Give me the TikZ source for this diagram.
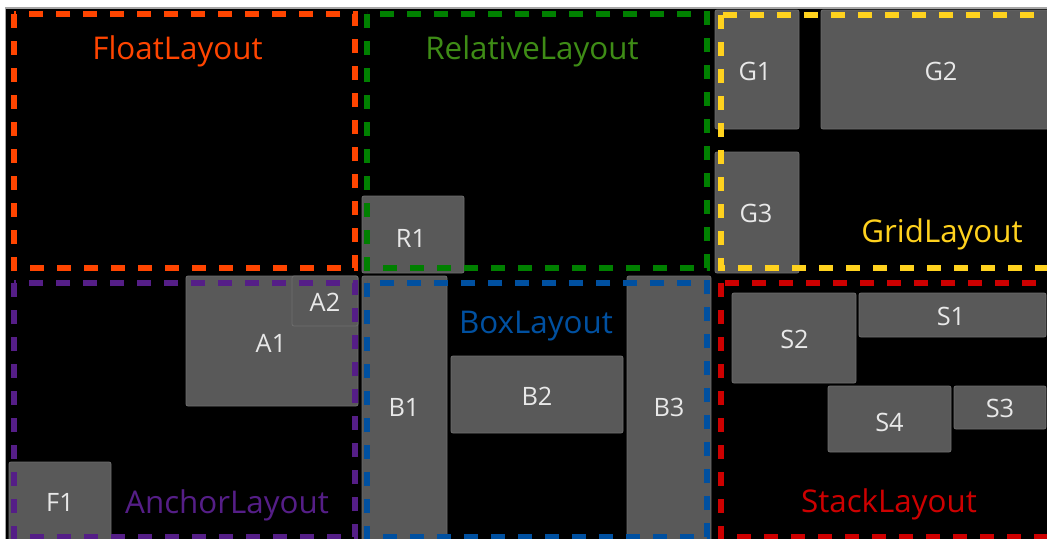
\documentclass[tikz,border=0pt]{standalone}
\usepackage{fontspec}
\setmainfont{Open Sans}
\usepackage{tikz}
\definecolor{floatorange}{RGB}{255, 69, 0}
\definecolor{relativegreen}{RGB}{0, 128, 0}
\definecolor{relativetext}{RGB}{62, 140, 22}
\definecolor{gridgold}{RGB}{255, 210, 30}
\definecolor{anchorpurple}{RGB}{85, 30, 135}
\definecolor{boxblue}{RGB}{0, 80, 160}
\definecolor{stackred}{RGB}{205, 0, 0}
\definecolor{widgetgray}{RGB}{89, 89, 89}
\definecolor{widgetedge}{RGB}{110, 110, 110}
\definecolor{widgettext}{RGB}{232, 232, 232}

\begin{document}
\begin{tikzpicture}[x=0.75pt, y=-0.75pt,
    widget/.style={fill=widgetgray, draw=widgetedge, line width=0.6pt, rounded corners=1.5pt},
    wtext/.style={text=widgettext, font=\fontsize{19}{19}\selectfont, inner sep=0pt},
    ltext/.style={font=\fontsize{23.5}{24}\selectfont, inner sep=0pt, anchor=base},
    frame/.style={line width=4.75pt, dash pattern=on 10.5pt off 9.75pt}]
    \useasboundingbox (0,0) rectangle (1047,539);
    \fill[white] (0,0) rectangle (1047,539);

    % Screen
    \filldraw[fill=black, draw=gray!70, line width=0.8pt] (5.5,8) rectangle (1050,545);

    \begin{scope}
    \clip (6,8.5) rectangle (1047,539);

    % Widgets
    \draw[widget] (362,196) rectangle (464,273);
    \draw[widget] (715,10) rectangle (799,129);
    \draw[widget] (821,10) rectangle (1060,129);
    \draw[widget] (715,152) rectangle (799,273);
    \draw[widget] (186,276) rectangle (358,406);
    \draw[widget] (292,276) rectangle (358,326);
    \draw[widget] (9,462) rectangle (111,545);
    \draw[widget] (362,276) rectangle (447,545);
    \draw[widget] (451,356) rectangle (623,433);
    \draw[widget] (627,276) rectangle (711,545);
    \draw[widget] (732,293) rectangle (856,383);
    \draw[widget] (859,293) rectangle (1046,337);
    \draw[widget] (828,386) rectangle (951,452);
    \draw[widget] (954,386) rectangle (1046,429);

    % Widget labels
    \node[wtext] (R1) at (411,238.5) {R1};
    \node[wtext] (G1) at (755,71.5) {G1};
    \node[wtext] (G2) at (941,71.5) {G2};
    \node[wtext] (G3) at (756,213) {G3};
    \node[wtext] (A1) at (271,343) {A1};
    \node[wtext] (A2) at (325,302.5) {A2};
    \node[wtext] (F1) at (60,502.5) {F1};
    \node[wtext] (B1) at (404,407.5) {B1};
    \node[wtext] (B2) at (537,396) {B2};
    \node[wtext] (B3) at (669,407.5) {B3};
    \node[wtext] (S2) at (794.5,339) {S2};
    \node[wtext] (S1) at (951,316) {S1};
    \node[wtext] (S4) at (889.5,422) {S4};
    \node[wtext] (S3) at (1000,408) {S3};

    % Layout frames
    \draw[frame, floatorange] (14,14) rectangle (355,268);
    \draw[frame, relativegreen] (367,14) rectangle (707,268);
    \draw[frame, gridgold] (721,15) rectangle (1070,268);
    \draw[frame, anchorpurple] (14,283) rectangle (355,537);
    \draw[frame, boxblue] (367,283) rectangle (707,537);
    \draw[frame, stackred] (721,283) rectangle (1070,537);

    % Layout names
    \node[ltext, text=floatorange] (floatname) at (177.5,60) {FloatLayout};
    \node[ltext, text=relativetext] (relativename) at (532,60) {RelativeLayout};
    \node[ltext, text=gridgold] (gridname) at (942,242) {GridLayout};
    \node[ltext, text=anchorpurple] (anchorname) at (227,513) {AnchorLayout};
    \node[ltext, text=boxblue] (boxname) at (536,333) {BoxLayout};
    \node[ltext, text=stackred] (stackname) at (889,512) {StackLayout};
    \end{scope}
\end{tikzpicture}
\end{document}
